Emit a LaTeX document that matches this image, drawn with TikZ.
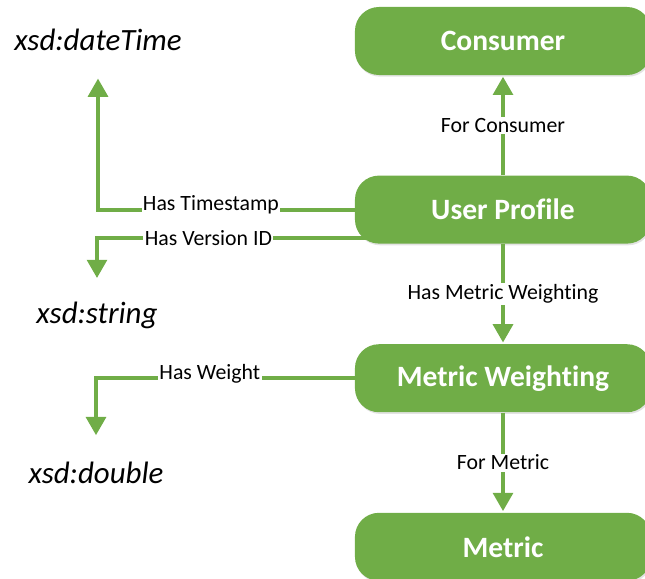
\documentclass[tikz,border=0pt]{standalone}
\usepackage{fontspec}
\setmainfont{Carlito}[Ligatures=NoCommon]
\usetikzlibrary{arrows.meta,positioning,shadows}
\definecolor{leaf}{HTML}{70AD47}
\tikzset{
  classbox/.style={
    rectangle, rounded corners=0.6cm, fill=leaf, text=white,
    minimum width=7.4cm, minimum height=1.7cm,
    font=\fontsize{21}{25}\selectfont\bfseries, align=center,
    drop shadow={shadow xshift=0.8pt, shadow yshift=-1.2pt, opacity=0.18, fill=black!60}
  },
  proplink/.style={
    -{Triangle[length=13pt, width=14pt]}, line width=2.8pt, color=leaf
  },
  typelink/.style={
    proplink, shorten >=#1
  },
  typelink/.default=0.6cm,
  proplabel/.style={
    fill=white, text=black, inner sep=1pt,
    font=\fontsize{15.5}{18}\selectfont
  },
  typetext/.style={
    inner sep=0pt, text=black, font=\fontsize{22}{26}\selectfont\itshape
  },
}
\begin{document}
\begin{tikzpicture}[x=0.025cm, y=-0.025cm, node distance=2.5cm]
  \useasboundingbox (0,0) rectangle (645,579);
  \node[classbox] (consumer) at (503,41) {Consumer};
  \node[classbox, below=of consumer] (profile) {User Profile};
  \node[classbox, below=of profile] (weighting) {Metric Weighting};
  \node[classbox, below=of weighting] (metric) {Metric};
  \node[typetext, anchor=base] (datetime) at (98,50) {xsd:dateTime};
  \node[typetext, anchor=base] (string) at (97,323) {xsd:string};
  \node[typetext, anchor=base] (double) at (96,483) {xsd:double};
  \draw[proplink, shorten >=1pt] (profile) -- node[proplabel] {For Consumer} (consumer);
  \draw[proplink, shorten >=1pt] (profile) -- node[proplabel] {Has Metric Weighting} (weighting);
  \draw[proplink, shorten >=1pt] (weighting) -- node[proplabel] {For Metric} (metric);
  \draw[typelink=0.7cm] (profile.west) -| node[proplabel, pos=0.28, yshift=0.125cm] {Has Timestamp} (datetime.south);
  \draw[typelink=0.58cm] ([yshift=-0.7cm, xshift=0.35cm]profile.west) -| node[proplabel, pos=0.295] {Has Version ID} (string.north);
  \draw[typelink=0.65cm] (weighting.west) -| node[proplabel, pos=0.28, yshift=0.1cm] {Has Weight} (double.north);
\end{tikzpicture}
\end{document}
